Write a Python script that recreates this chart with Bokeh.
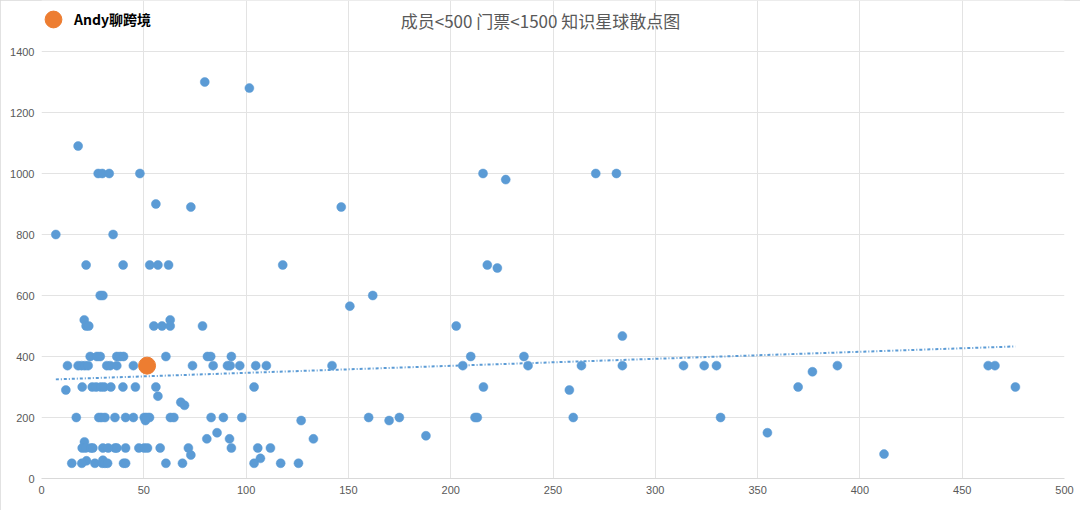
from bokeh.plotting import figure
from bokeh.models import Range1d, FixedTicker, Label, Legend, LegendItem
from bokeh.embed import file_html
from bokeh.resources import INLINE

# ---------------- data ----------------
title_text = "成员<500 门票<1500 知识星球散点图"
legend_text = "Andy聊跨境"

# members (x) and ticket price (y) of each knowledge planet
members = [
    # y = 1300 / 1280 / 1090
    79.8, 101.6, 17.9,
    # y = 1000 / 980
    27.7, 29.7, 33.1, 48.1, 215.8, 270.9, 281.0, 226.9,
    # y = 900 / 890
    55.9, 73.0, 146.5,
    # y = 800
    7.0, 35.0,
    # y = 700 / 690
    21.8, 39.9, 52.9, 56.9, 62.1, 117.9, 217.9, 222.8,
    # y = 600 / 565
    28.7, 30.0, 161.9, 150.7,
    # y = 520 / 500
    20.9, 62.9, 21.8, 23.1, 54.9, 58.9, 62.9, 78.7, 202.7,
    # y = 467
    283.9,
    # y = 400
    23.8, 27.1, 28.7, 36.8, 38.5, 40.1, 60.8, 81.1, 82.7, 92.8, 209.8, 235.8,
    # y = 370
    12.7, 17.9, 19.6, 21.2, 22.8, 31.9, 33.6, 36.8, 44.9, 73.8, 83.9, 90.9,
    92.2, 96.9, 104.7, 109.9, 142.0, 205.9, 237.8, 263.9, 283.9, 313.8, 323.9,
    329.9, 389.0, 462.7, 466.0,
    # y = 350
    376.8,
    # y = 300 / 290
    19.9, 24.8, 26.7, 29.0, 30.6, 33.9, 39.8, 45.9, 55.9, 103.9, 216.0, 369.8,
    476.0, 11.9, 258.0,
    # y = 270 / 250 / 240
    56.9, 68.1, 69.9,
    # y = 200
    17.0, 28.0, 29.3, 31.0, 35.9, 41.1, 44.9, 50.2, 51.5, 52.8, 63.0, 64.7,
    82.9, 88.9, 97.9, 159.9, 174.9, 211.9, 213.0, 259.9, 331.9,
    # y = 190
    50.8, 126.9, 169.9,
    # y = 150 / 140 / 130 / 120
    85.8, 354.8, 187.9, 80.8, 91.9, 132.9, 21.0,
    # y = 100
    19.9, 21.5, 24.1, 25.1, 30.0, 32.6, 35.9, 36.8, 41.1, 47.6, 50.2, 51.8,
    58.0, 71.8, 92.8, 105.7, 111.9,
    # y = 80 / 77 / 66 / 60
    411.8, 73.0, 107.0, 22.0, 30.0,
    # y = 50
    14.8, 19.7, 26.1, 29.7, 31.0, 32.3, 40.1, 41.1, 60.8, 68.9, 103.9, 116.9,
    125.6,
]
tickets = [
    1300, 1280, 1090,
    1000, 1000, 1000, 1000, 1000, 1000, 1000, 980,
    900, 890, 890,
    800, 800,
    700, 700, 700, 700, 700, 700, 700, 690,
    600, 600, 600, 565,
    520, 520, 500, 500, 500, 500, 500, 500, 500,
    467,
    400, 400, 400, 400, 400, 400, 400, 400, 400, 400, 400, 400,
    370, 370, 370, 370, 370, 370, 370, 370, 370, 370, 370, 370,
    370, 370, 370, 370, 370, 370, 370, 370, 370, 370, 370,
    370, 370, 370, 370,
    350,
    300, 300, 300, 300, 300, 300, 300, 300, 300, 300, 300, 300,
    300, 290, 290,
    270, 250, 240,
    200, 200, 200, 200, 200, 200, 200, 200, 200, 200, 200, 200,
    200, 200, 200, 200, 200, 200, 200, 200, 200,
    190, 190, 190,
    150, 150, 140, 130, 130, 130, 120,
    100, 100, 100, 100, 100, 100, 100, 100, 100, 100, 100, 100,
    100, 100, 100, 100, 100,
    80, 77, 66, 58, 60,
    50, 50, 50, 50, 50, 50, 50, 50, 50, 50, 50, 50,
    50,
]

# highlighted planet (Andy聊跨境)
highlight_members = [51.6]
highlight_tickets = [370]

# linear trend line as drawn in the reference (end points)
trend_members = [7.0, 476.0]
trend_tickets = [325, 433]

x_ticks = [0, 50, 100, 150, 200, 250, 300, 350, 400, 450, 500]
y_ticks = [0, 200, 400, 600, 800, 1000, 1200, 1400]

# ---------------- styles ----------------
BLUE = "#5B9BD5"
ORANGE = "#ED7D31"
GRID = "#e3e3e3"
TEXT = "#595959"
TICK_FONT = "Liberation Sans"
CJK_FONT = "Noto Sans CJK SC"

W, H = 1080, 510
BORDER_L, BORDER_R, BORDER_B = 41, 16, 32
frame_h = H - BORDER_B
# the frame reaches the top of the canvas so that title and legend
# (drawn inside it) are not clipped; the data area ends at 1400
y_top = y_ticks[-1] * frame_h / 427.0

p = figure(width=W, height=H,
           x_range=Range1d(x_ticks[0], x_ticks[-1]),
           y_range=Range1d(y_ticks[0], y_top),
           output_backend="svg", toolbar_location=None,
           min_border_left=BORDER_L, min_border_right=BORDER_R,
           min_border_top=0, min_border_bottom=BORDER_B)
p.outline_line_color = None
p.background_fill_color = "white"
p.border_fill_color = "white"
p.styles = {"outline": "1px solid #d9d9d9", "outline-offset": "-1px"}

p.xaxis.ticker = FixedTicker(ticks=x_ticks)
p.yaxis.ticker = FixedTicker(ticks=y_ticks)
p.yaxis.bounds = (y_ticks[0], y_ticks[-1])
for ax in (p.xaxis, p.yaxis):
    ax.major_tick_line_color = None
    ax.minor_tick_line_color = None
    ax.major_tick_out = 0
    ax.major_tick_in = 0
    ax.minor_tick_out = 0
    ax.minor_tick_in = 0
    ax.major_label_text_font = TICK_FONT
    ax.major_label_text_font_size = "11px"
    ax.major_label_text_color = TEXT
    ax.major_label_standoff = 7
p.xaxis.axis_line_color = "#d9d9d9"
p.yaxis.axis_line_color = None

p.xgrid.ticker = FixedTicker(ticks=x_ticks)
p.ygrid.ticker = FixedTicker(ticks=y_ticks)
p.xgrid.bounds = (y_ticks[0], y_ticks[-1])
p.ygrid.bounds = (x_ticks[0], x_ticks[-1])
p.grid.grid_line_color = GRID
p.grid.grid_line_width = 1

# scatter of all planets
p.scatter(members, tickets, size=9, fill_color=BLUE, line_color=BLUE,
          line_width=0.5)

# linear trend line
p.line(trend_members, trend_tickets, line_color=BLUE, line_width=2,
       line_dash="3 2 1 2")

# highlighted planet
hr = p.scatter(highlight_members, highlight_tickets, size=17,
               fill_color=ORANGE, line_color=ORANGE)

legend = Legend(items=[LegendItem(label=legend_text, renderers=[hr])],
                location=(-9, frame_h - 40), orientation="horizontal",
                glyph_width=42, glyph_height=42, label_standoff=-4,
                padding=0, margin=0, spacing=0,
                background_fill_alpha=0, border_line_alpha=0,
                label_text_font=CJK_FONT, label_text_font_style="bold",
                label_text_font_size="14px", label_text_color="#000000",
                label_height=20)
p.add_layout(legend)

title = Label(x=499, y=frame_h - 20, x_units="screen", y_units="screen",
              text=title_text, text_align="center", text_baseline="middle",
              text_font=CJK_FONT, text_font_size="17px", text_color=TEXT)
p.add_layout(title)

open("out.html", "w").write(file_html(p, INLINE))
